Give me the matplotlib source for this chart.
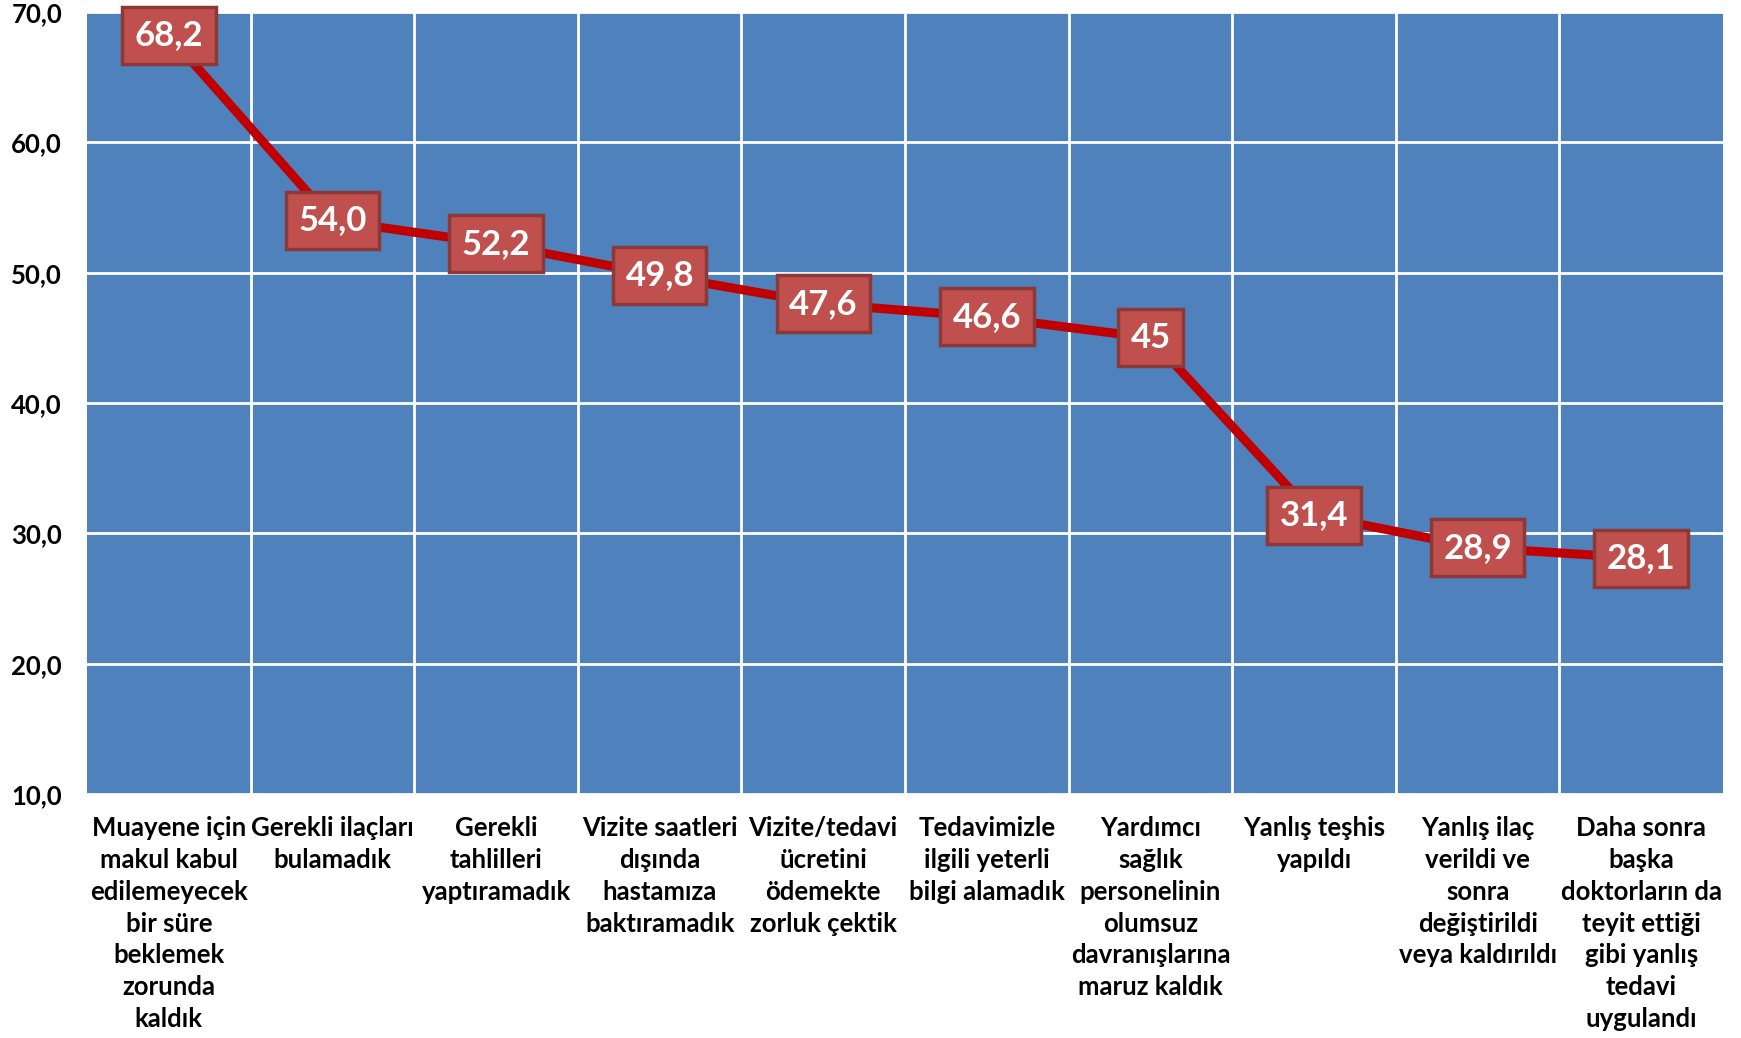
import numpy as np
import matplotlib.pyplot as plt

# kategoriler ve yüzdeler
kategoriler = [
    'Muayene için\nmakul kabul\nedilemeyecek\nbir süre\nbeklemek\nzorunda\nkaldık',
    'Gerekli ilaçları\nbulamadık',
    'Gerekli\ntahlilleri\nyaptıramadık',
    'Vizite saatleri\ndışında\nhastamıza\nbaktıramadık',
    'Vizite/tedavi\nücretini\nödemekte\nzorluk çektik',
    'Tedavimizle\nilgili yeterli\nbilgi alamadık',
    'Yardımcı\nsağlık\npersonelinin\nolumsuz\ndavranışlarına\nmaruz kaldık',
    'Yanlış teşhis\nyapıldı',
    'Yanlış ilaç\nverildi ve\nsonra\ndeğiştirildi\nveya kaldırıldı',
    'Daha sonra\nbaşka\ndoktorların da\nteyit ettiği\ngibi yanlış\ntedavi\nuygulandı',
]
degerler = [68.2, 54.0, 52.2, 49.8, 47.6, 46.6, 45, 31.4, 28.9, 28.1]
etiketler = ['68,2', '54,0', '52,2', '49,8', '47,6', '46,6', '45', '31,4', '28,9', '28,1']
y_ticks = [10, 20, 30, 40, 50, 60, 70]
y_tick_labels = ['10,0', '20,0', '30,0', '40,0', '50,0', '60,0', '70,0']

plt.rcParams['font.family'] = ['Lato', 'DejaVu Sans']

fig = plt.figure(figsize=(17.41, 10.38), dpi=100)
ax = fig.add_axes([0.050, 0.235, 0.9397, 0.7535])
ax.set_facecolor('#4F81BD')

x = np.arange(len(degerler))
ax.plot(x, degerler, color='#C00000', lw=6.5, zorder=3, solid_capstyle='butt')

# veri etiketleri (kutulu)
for xi, yi, lab in zip(x, degerler, etiketler):
    ax.text(xi, yi, lab, ha='center', va='center', color='white',
            fontsize=25, fontweight='bold', zorder=5,
            bbox=dict(boxstyle='square,pad=0.36', fc='#C0504D', ec='#8C3836', lw=2.5))

ax.set_xlim(-0.5, len(degerler) - 0.5)
ax.set_ylim(10, 70)
ax.set_yticks(y_ticks)
ax.set_yticklabels(y_tick_labels, fontsize=18.5, fontweight='bold')
ax.set_xticks(x)
ax.set_xticklabels(kategoriler, fontsize=18.5, fontweight='bold', linespacing=1.39, va='top')
ax.set_xticks(np.arange(0.5, len(degerler) - 1), minor=True)
ax.tick_params(axis='both', which='both', length=0)
ax.tick_params(axis='x', pad=16)
ax.tick_params(axis='y', pad=18)

ax.grid(axis='y', which='major', color='white', lw=2)
ax.grid(axis='x', which='minor', color='white', lw=2)
ax.set_axisbelow(True)
for s in ax.spines.values():
    s.set_visible(False)

plt.savefig('out.png', dpi=100)
